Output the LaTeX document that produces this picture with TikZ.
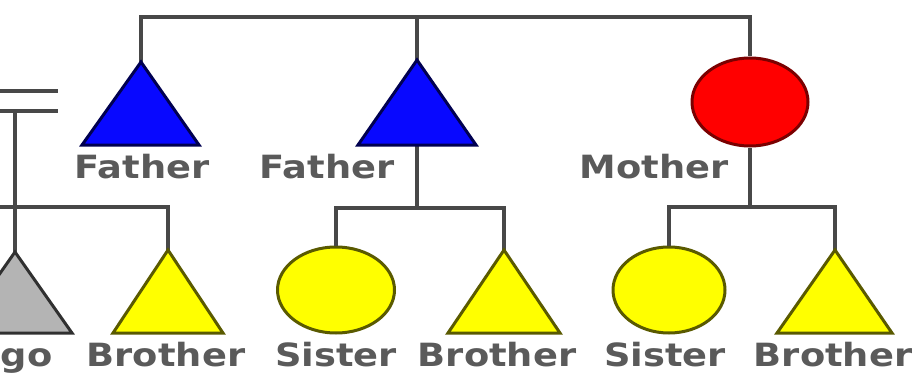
\documentclass[tikz,border=0pt]{standalone}
\usepackage{fontspec}
\usetikzlibrary{shapes.geometric}
\newfontfamily\lblfont[FakeStretch=1.15]{DejaVu Sans Bold}
\definecolor{linegray}{HTML}{484848}
\definecolor{txtgray}{HTML}{5A5A5A}
\definecolor{bluefill}{HTML}{0808FF}
\definecolor{blueedge}{HTML}{000050}
\definecolor{redfill}{HTML}{FF0000}
\definecolor{rededge}{HTML}{7A0000}
\definecolor{yelfill}{HTML}{FFFF00}
\definecolor{yeledge}{HTML}{5A5A00}
\definecolor{grayfill}{HTML}{B4B4B4}
\definecolor{grayedge}{HTML}{303030}
\tikzset{
  kin/.style={draw=linegray, line width=4pt},
  maletri/.style={line width=3pt, line join=miter},
  femell/.style={ellipse, inner sep=0pt, line width=3pt},
  lbl/.style={text=txtgray, font=\lblfont\fontsize{32}{36}\selectfont, anchor=base, inner sep=0pt}
}
\begin{document}
\begin{tikzpicture}[x=1pt,y=-1pt]
\useasboundingbox (0,0) rectangle (912,385);
\clip (0,0) rectangle (912,385);
\fill[white] (0,0) rectangle (912,385);
% apex coordinates of triangles
\coordinate (f1) at (141,62);
\coordinate (f2) at (417,60);
\coordinate (b1) at (168,250);
\coordinate (b2) at (504,250);
\coordinate (b3) at (835,250);
\coordinate (ego) at (15,252);
\coordinate (f2b) at (417,145);
% mother and sisters
\node[femell, draw=rededge, fill=redfill, minimum width=116pt, minimum height=88pt] (m) at (750,102) {};
\node[femell, draw=yeledge, fill=yelfill, minimum width=117pt, minimum height=86pt] (s1) at (336,290) {};
\node[femell, draw=yeledge, fill=yelfill, minimum width=112pt, minimum height=86pt] (s2) at (669,290) {};
% junction coordinates
\coordinate (t1) at (141,17);
\coordinate (t2) at (417,17);
\coordinate (t3) at (750,17);
\coordinate (j2) at (417,208);
\coordinate (j2l) at (336,208);
\coordinate (j2r) at (504,208);
\coordinate (j3) at (750,207);
\coordinate (j3l) at (669,207);
\coordinate (j3r) at (835,207);
\coordinate (j1l) at (-5,207);
\coordinate (j1r) at (168,207);
\coordinate (d1a) at (-5,91);
\coordinate (d1b) at (58,91);
\coordinate (d2a) at (-5,111);
\coordinate (d2b) at (58,111);
\coordinate (egotop) at (15,111);
% connectors
\draw[kin] (f1) -- (t1) -- (t3) -- (m.north);
\draw[kin] (t2) -- (f2);
\draw[kin] (f2b) -- (j2);
\draw[kin] (s1.north) -- (j2l) -- (j2r) -- (b2);
\draw[kin] (m.south) -- (j3);
\draw[kin] (s2.north) -- (j3l) -- (j3r) -- (b3);
\draw[kin] (j1l) -- (j1r) -- (b1);
\draw[kin] (d1a) -- (d1b);
\draw[kin] (d2a) -- (d2b);
\draw[kin] (egotop) -- (ego);
% triangles
\draw[maletri, draw=blueedge, fill=bluefill] (f1) -- ++(58,83) -- ++(-117,0) -- cycle;
\draw[maletri, draw=blueedge, fill=bluefill] (f2) -- ++(59,85) -- ++(-118,0) -- cycle;
\draw[maletri, draw=yeledge, fill=yelfill] (b1) -- ++(55,83) -- ++(-110,0) -- cycle;
\draw[maletri, draw=yeledge, fill=yelfill] (b2) -- ++(56,83) -- ++(-112,0) -- cycle;
\draw[maletri, draw=yeledge, fill=yelfill] (b3) -- ++(57,83) -- ++(-115,0) -- cycle;
\draw[maletri, draw=grayedge, fill=grayfill] (ego) -- ++(57,81) -- ++(-114,0) -- cycle;
% labels
\node[lbl] (lf1) at (142,178) {Father};
\node[lbl] (lf2) at (327,178) {Father};
\node[lbl] (lm) at (654,178) {Mother};
\node[lbl] (le) at (14,366) {Ego};
\node[lbl] (lb1) at (166,366) {Brother};
\node[lbl] (ls1) at (336,366) {Sister};
\node[lbl] (lb2) at (497,366) {Brother};
\node[lbl] (ls2) at (665,366) {Sister};
\node[lbl] (lb3) at (833,366) {Brother};
\end{tikzpicture}
\end{document}
